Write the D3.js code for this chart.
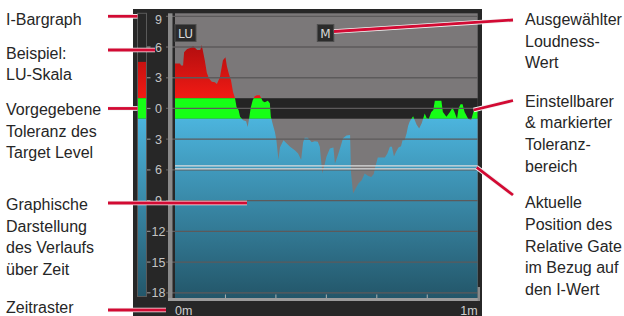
<!DOCTYPE html>
<html>
<head>
<meta charset="utf-8">
<script src="https://cdn.jsdelivr.net/npm/d3@7"></script>
<style>
  body { margin: 0; background: #fff; }
  svg { display: block; }
</style>
</head>
<body>
<div id="chart"></div>
<script>
// loudness history, seconds vs LU relative to target
const timeSec = [0, 1.0, 1.2, 1.6, 1.8, 2.4, 3.0, 3.6, 4.0, 4.4, 5.0, 5.3, 5.5, 5.9, 6.3, 6.7, 7.3, 7.9, 8.3, 8.9,
  9.5, 10.0, 10.3, 10.7, 11.1, 11.5, 11.9, 12.2, 12.6, 12.9, 13.5, 14.1, 14.4, 14.7, 15.0, 15.4, 15.8, 16.2, 16.8, 17.2,
  17.4, 17.8, 18.4, 18.8, 19.0, 19.4, 19.8, 20.1, 20.5, 20.8, 21.5, 22.1, 22.8, 23.8, 24.4, 25.0, 25.4, 25.7, 26.3, 27.1,
  27.7, 28.3, 28.7, 29.2, 29.7, 30.0, 30.7, 31.4, 31.7, 32.3, 32.9, 33.3, 34.0, 34.7, 34.9, 35.3, 36.0, 36.4, 37.0, 37.6,
  38.3, 38.9, 39.4, 39.7, 40.2, 41.6, 42.1, 42.6, 43.0, 43.4, 43.8, 44.3, 44.8, 45.1, 45.5, 45.9, 46.2, 46.5, 47.2, 47.9,
  48.4, 48.9, 49.5, 49.9, 50.3, 50.8, 51.2, 51.5, 52.8, 53.1, 53.8, 54.5, 55.0, 55.4, 55.9, 56.2, 56.6, 57.0, 57.4, 58.1,
  58.7, 59.2, 60.0];
const loudnessLU = [4.4, 4.4, 4.2, 4.2, 5.5, 5.8, 5.9, 6.1, 5.9, 5.7, 5.7, 6.2, 5.7, 4.7, 3.5, 2.95, 2.6, 2.55, 2.4, 3.05,
  4.7, 5.0, 4.1, 3.35, 2.75, 1.6, 1.0, 0.15, -0.15, -0.8, -1.15, -1.25, -1.8, -0.95, 0.05, 0.8, 1.2, 1.3, 1.3, 0.9,
  0.7, 0.6, 0.75, 0.5, -0.8, -1.6, -2.3, -3.1, -5.0, -3.8, -3.1, -3.4, -3.75, -4.1, -4.4, -5.0, -3.3, -2.85, -2.85, -3.3,
  -3.2, -3.25, -3.75, -6.35, -5.4, -4.75, -3.9, -3.8, -5.4, -4.55, -3.6, -2.9, -2.65, -2.6, -6.35, -8.3, -7.65, -7.3, -7.0, -6.35,
  -6.6, -6.7, -6.4, -5.7, -4.8, -4.8, -4.4, -3.75, -3.75, -4.7, -4.25, -3.8, -3.7, -3.1, -3.1, -2.45, -1.7, -1.3, -0.75, -1.6,
  -1.95, -1.45, -0.5, -0.95, -1.0, -0.35, -0.15, 0.75, 0.75, -0.35, -0.8, -0.35, 0.1, -0.35, -1.0, 0.0, 0.4, 0.4, -0.35, -1.0,
  -1.15, -0.25, -0.25];

const luTicks = [9, 6, 3, 0, -3, -6, -9, -12, -15, -18];
const timeTicks = [0, 10, 20, 30, 40, 50, 60];
const timeLabels = [[0, "0m"], [60, "1m"]];
const tolerance = [1, -1];
const integratedLU = 4.55;
const gateLU = -5.75;
const boxLabels = ["LU", "M"];

const leftNotes = [
  ["I-Bargraph"],
  ["Beispiel:", "LU-Skala"],
  ["Vorgegebene", "Toleranz des", "Target Level"],
  ["Graphische", "Darstellung", "des Verlaufs", "über Zeit"],
  ["Zeitraster"]
];
const rightNotes = [
  ["Ausgewählter", "Loudness-", "Wert"],
  ["Einstellbarer", "& markierter", "Toleranz-", "bereich"],
  ["Aktuelle", "Position des", "Relative Gate", "im Bezug auf", "den I-Wert"]
];

const W = 624, H = 316;
const plotL = 175, plotR = 477.7, plotT = 13.3, plotB = 298;

const svg = d3.select("#chart").append("svg")
  .attr("width", W)
  .attr("height", H);

const x = d3.scaleLinear().domain([0, 60]).range([plotL, plotR]);
const y = d3.scaleLinear().domain([-18, 9]).range([292.8, 16.3]);

const defs = svg.append("defs");

const redGrad = defs.append("linearGradient")
  .attr("id", "red-grad")
  .attr("gradientUnits", "userSpaceOnUse")
  .attr("x1", 0).attr("x2", 0)
  .attr("y1", y(7)).attr("y2", y(1));
redGrad.append("stop").attr("offset", "0%").attr("stop-color", "#a80c0e");
redGrad.append("stop").attr("offset", "100%").attr("stop-color", "#f21a14");

const blueGrad = defs.append("linearGradient")
  .attr("id", "blue-grad")
  .attr("gradientUnits", "userSpaceOnUse")
  .attr("x1", 0).attr("x2", 0)
  .attr("y1", y(-1)).attr("y2", plotB);
blueGrad.append("stop").attr("offset", "0%").attr("stop-color", "#4cb4dd");
blueGrad.append("stop").attr("offset", "100%").attr("stop-color", "#235669");

// clip bands: above tolerance, inside, below
const bands = [
  { id: "clip-red", y0: plotT, y1: y(tolerance[0]), fill: "url(#red-grad)" },
  { id: "clip-green", y0: y(tolerance[0]), y1: y(tolerance[1]), fill: "#16ff16" },
  { id: "clip-blue", y0: y(tolerance[1]), y1: plotB, fill: "url(#blue-grad)" }
];
bands.forEach(b => {
  defs.append("clipPath").attr("id", b.id)
    .append("rect")
    .attr("x", plotL).attr("y", b.y0)
    .attr("width", plotR - plotL).attr("height", b.y1 - b.y0);
});

// panel
svg.append("rect")
  .attr("x", 133).attr("y", 9)
  .attr("width", 349).attr("height", H - 9)
  .attr("fill", "#272727");

// plot background
svg.append("rect")
  .attr("x", plotL).attr("y", plotT)
  .attr("width", plotR - plotL).attr("height", plotB - plotT)
  .attr("fill", "#7b7879");

svg.append("rect")
  .attr("x", plotL).attr("y", y(tolerance[0]))
  .attr("width", plotR - plotL).attr("height", y(tolerance[1]) - y(tolerance[0]))
  .attr("fill", "#242424");

const data = timeSec.map((t, i) => ({ t: t, v: loudnessLU[i] }));
const area = d3.area()
  .x(d => x(d.t))
  .y0(plotB)
  .y1(d => y(d.v));

bands.forEach(b => {
  svg.append("path")
    .datum(data)
    .attr("clip-path", `url(#${b.id})`)
    .attr("fill", b.fill)
    .attr("d", area);
});

// grid
svg.append("g")
  .selectAll("line")
  .data(luTicks)
  .join("line")
  .attr("x1", 166).attr("x2", plotR)
  .attr("y1", d => y(d)).attr("y2", d => y(d))
  .attr("stroke", "#5c5a5b")
  .attr("stroke-width", 1.3);

// frame strips
svg.append("rect").attr("x", 168).attr("y", plotT).attr("width", 4.5).attr("height", plotB - plotT + 3)
  .attr("fill", "#8a8a8a");
svg.append("rect").attr("x", 168).attr("y", plotB).attr("width", plotR - 168 + 2.3).attr("height", 3)
  .attr("fill", "#9c9c9c");
svg.append("rect").attr("x", plotR).attr("y", 287).attr("width", 2.3).attr("height", 14)
  .attr("fill", "#8a8a8a");

// relative gate double line
const gateY = y(gateLU);
[-1.5, 1.5].forEach(off => {
  svg.append("line")
    .attr("x1", plotL).attr("x2", plotR)
    .attr("y1", gateY + off).attr("y2", gateY + off)
    .attr("stroke", "#dcdcdc")
    .attr("stroke-width", 1.2);
});

// time ticks
svg.append("g")
  .selectAll("line")
  .data(timeTicks.slice(1, -1))
  .join("line")
  .attr("x1", d => x(d)).attr("x2", d => x(d))
  .attr("y1", plotB - 3.5).attr("y2", plotB)
  .attr("stroke", "#b0b0b0")
  .attr("stroke-width", 1);

svg.append("g")
  .selectAll("text")
  .data(timeLabels)
  .join("text")
  .attr("x", d => x(d[0]))
  .attr("y", 314.5)
  .attr("text-anchor", (d, i) => i === 0 ? "start" : "end")
  .attr("font-family", "Liberation Sans, Arial, sans-serif")
  .attr("font-size", 12.5)
  .attr("fill", "#cfcfcf")
  .text(d => d[1]);

// LU scale
const scale = svg.append("g");
scale.selectAll("line.l")
  .data(luTicks.filter(d => d < 9))
  .join("line")
  .attr("class", "l")
  .attr("x1", 146.8).attr("x2", 150.5)
  .attr("y1", d => y(d)).attr("y2", d => y(d))
  .attr("stroke", "#8c8c8c").attr("stroke-width", 1.2);
scale.selectAll("text")
  .data(luTicks)
  .join("text")
  .attr("x", 158.5)
  .attr("y", d => Math.max(y(d), 19.5))
  .attr("dy", "0.36em")
  .attr("text-anchor", "middle")
  .attr("font-family", "Liberation Sans, Arial, sans-serif")
  .attr("font-size", 12.5)
  .attr("fill", "#c4c4c4")
  .text(d => Math.abs(d));

// I-bargraph
const barX = 137.5, barW = 9, barBottom = 296.5;
const barParts = [
  [y(integratedLU), y(tolerance[0]), "url(#red-grad)"],
  [y(tolerance[0]), y(tolerance[1]), "#16ff16"],
  [y(tolerance[1]), barBottom, "url(#blue-grad)"]
];
svg.append("g")
  .selectAll("rect")
  .data(barParts)
  .join("rect")
  .attr("x", barX).attr("y", d => d[0])
  .attr("width", barW).attr("height", d => d[1] - d[0])
  .attr("fill", d => d[2]);
svg.append("rect")
  .attr("x", barX).attr("y", plotT)
  .attr("width", barW).attr("height", barBottom - plotT)
  .attr("fill", "none")
  .attr("stroke", "#5a5a5a")
  .attr("stroke-width", 1);

// LU / M boxes
const boxPos = [[plotL, 21], [317.3, 16.5]];
boxLabels.forEach((lab, i) => {
  const bx = boxPos[i][0], bw = boxPos[i][1];
  svg.append("rect")
    .attr("x", bx).attr("y", 24.5)
    .attr("width", bw).attr("height", 17)
    .attr("fill", "#2b2b2b")
    .attr("stroke", "#4e4e4e")
    .attr("stroke-width", 1);
  svg.append("text")
    .attr("x", bx + bw / 2).attr("y", 37.5)
    .attr("text-anchor", "middle")
    .attr("font-family", "DejaVu Sans, sans-serif")
    .attr("font-size", 12)
    .attr("fill", "#d8d8d8")
    .text(lab);
});

// annotation text
const noteFont = "Liberation Sans, Arial, Helvetica, sans-serif";
const leftBase = [25, 58.5, 115, 210, 313.3];
const rightBase = [25, 106.7, 208.3];
const lh = 21.7;

function drawNotes(notes, bases, x0) {
  notes.forEach((lines, i) => {
    svg.append("text")
      .attr("x", x0)
      .attr("y", bases[i])
      .attr("font-family", noteFont)
      .attr("font-size", 16)
      .attr("fill", "#262626")
      .selectAll("tspan")
      .data(lines)
      .join("tspan")
      .attr("x", x0)
      .attr("dy", (d, j) => j === 0 ? 0 : lh)
      .text(d => d);
  });
}
drawNotes(leftNotes, leftBase, 6);
drawNotes(rightNotes, rightBase, 525);

// leader lines
const leaders = [
  [108, y(9), barX, y(9)],
  [108, 50, 155, 50],
  [108, y(0), barX, y(0)],
  [108, 203, 247, 203],
  [108, 310, 166, 310],
  [334, 31.5, 513, 20],
  [x(59.2), 110, 513, 100.5],
  [plotR - 1, gateY, 513, 195]
];
const lead = svg.append("g");
lead.selectAll("line.bg")
  .data(leaders)
  .join("line")
  .attr("class", "bg")
  .attr("x1", d => d[0]).attr("y1", d => d[1])
  .attr("x2", d => d[2]).attr("y2", d => d[3])
  .attr("stroke", "#f4f4f4")
  .attr("stroke-width", 4.6);
lead.selectAll("line.fg")
  .data(leaders)
  .join("line")
  .attr("class", "fg")
  .attr("x1", d => d[0]).attr("y1", d => d[1])
  .attr("x2", d => d[2]).attr("y2", d => d[3])
  .attr("stroke", "#d20a33")
  .attr("stroke-width", 2.8);
</script>
</body>
</html>
